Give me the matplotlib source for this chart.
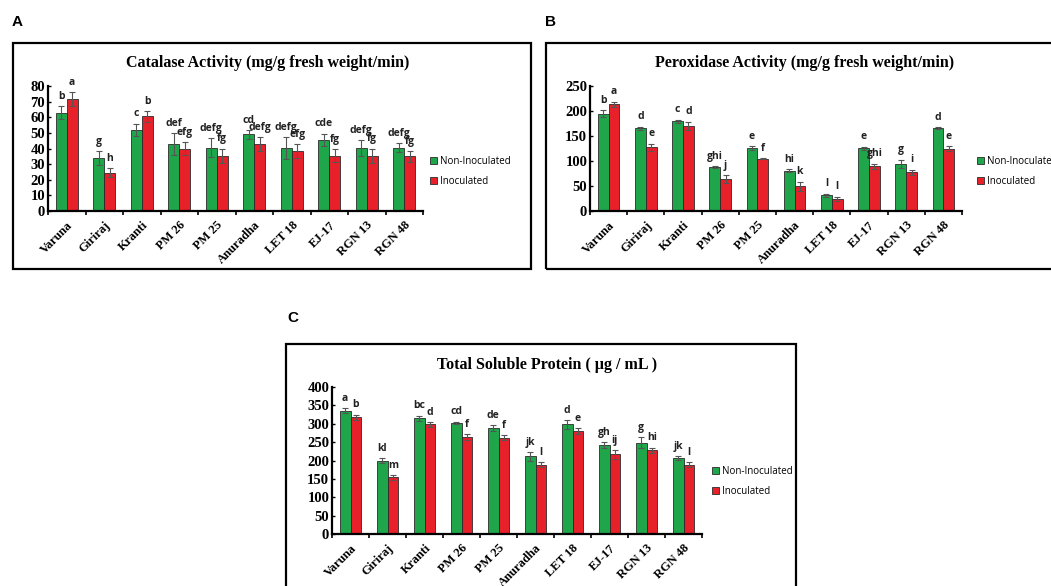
import matplotlib
matplotlib.use("Agg")
import matplotlib.pyplot as plt
from matplotlib.patches import Rectangle, Patch
import numpy as np

cultivars = ["Varuna", "Giriraj", "Kranti", "PM 26", "PM 25", "Anuradha", "LET 18", "EJ-17", "RGN 13", "RGN 48"]

# Catalase activity (mg/g fresh weight/min)
cat_non = [63, 34, 52, 43, 40.5, 49, 40.5, 45.5, 40.5, 40.5]
cat_ino = [71.5, 24.5, 60.5, 40, 35.5, 43, 38.5, 35.5, 35.5, 35]
cat_non_err = [4, 4.5, 4, 7, 6, 3, 7, 4, 5, 3]
cat_ino_err = [4.5, 3, 3.5, 4, 4.5, 4.5, 4.5, 4, 4.5, 3.5]
cat_non_let = ["b", "g", "c", "def", "defg", "cd", "defg", "cde", "defg", "defg"]
cat_ino_let = ["a", "h", "b", "efg", "fg", "defg", "efg", "fg", "fg", "fg"]

# Peroxidase activity (mg/g fresh weight/min)
pox_non = [195, 166, 180, 88, 126, 81, 32, 126, 95, 166]
pox_ino = [214, 128, 171, 64, 105, 50, 25, 90, 78, 125]
pox_non_err = [7, 3, 3, 1.5, 4, 3, 3, 3, 8, 2]
pox_ino_err = [5, 7, 8, 8, 1.5, 9, 4, 5, 5, 5]
pox_non_let = ["b", "d", "c", "ghi", "e", "hi", "l", "e", "g", "d"]
pox_ino_let = ["a", "e", "d", "j", "f", "k", "l", "ghi", "i", "e"]

# Total soluble protein (ug/mL)
tsp_non = [336, 200, 315, 302, 288, 212, 298, 242, 248, 207]
tsp_ino = [318, 154, 298, 264, 262, 188, 281, 217, 228, 188]
tsp_non_err = [7, 7, 7, 4, 8, 12, 12, 7, 15, 5]
tsp_ino_err = [7, 7, 7, 7, 7, 7, 8, 12, 7, 7]
tsp_non_let = ["a", "kl", "bc", "cd", "de", "jk", "d", "gh", "g", "jk"]
tsp_ino_let = ["b", "m", "d", "f", "f", "l", "e", "ij", "hi", "l"]

GREEN = "#1fa64a"
RED = "#e8202a"
EDGE = "#2b2b2b"
SERIF = "Liberation Serif"
SANS = "Open Sans"

W, H = 1051, 586
fig = plt.figure(figsize=(W / 100, H / 100), dpi=100)


def px_axes(l, t, r, b):
    return fig.add_axes([l / W, 1 - b / H, (r - l) / W, (b - t) / H])


def box(l, t, r, b):
    fig.patches.append(Rectangle((l / W, 1 - b / H), (r - l) / W, (b - t) / H,
                                 transform=fig.transFigure, fill=False,
                                 ec="black", lw=1.6, zorder=0))


def panel(ax, non, ino, enon, eino, lnon, lino, ymax, ystep, title, title_xy, leg_xy):
    x = np.arange(len(cultivars)) + 0.5
    w = 0.29
    ekw = dict(ecolor="#555555", elinewidth=0.8, capsize=2.5, capthick=0.8)
    ax.bar(x - w / 2, non, w, color=GREEN, edgecolor=EDGE, lw=0.6, yerr=enon, error_kw=ekw)
    ax.bar(x + w / 2, ino, w, color=RED, edgecolor=EDGE, lw=0.6, yerr=eino, error_kw=ekw)
    for xs, vals, errs, labs in ((x - w / 2, non, enon, lnon), (x + w / 2, ino, eino, lino)):
        for xi, v, e, s in zip(xs, vals, errs, labs):
            ax.annotate(s, (xi, v + e), xytext=(0, 3), textcoords="offset points",
                        ha="center", va="bottom", fontsize=7.5, family=SANS,
                        fontweight="bold", color="#222222")
    ax.set_xlim(0, len(cultivars))
    ax.set_ylim(0, ymax)
    ax.set_yticks(np.arange(0, ymax + 1, ystep))
    ax.set_xticks(np.arange(0, len(cultivars) + 1))
    ax.set_xticklabels([])
    ax.set_xticks(x, minor=True)
    ax.set_xticklabels(cultivars, minor=True, rotation=45, ha="right", rotation_mode="anchor",
                       family=SERIF, fontweight="bold", fontsize=9)
    ax.tick_params(axis="x", which="minor", length=0, pad=6)
    ax.tick_params(axis="x", which="major", direction="out", length=3, width=1.2)
    ax.tick_params(axis="y", direction="in", length=2, width=1.0, pad=2)
    for lab in ax.get_yticklabels():
        lab.set_family(SERIF)
        lab.set_fontweight("bold")
        lab.set_fontsize(10.5)
    for s in ("top", "right"):
        ax.spines[s].set_visible(False)
    for s in ("left", "bottom"):
        ax.spines[s].set_linewidth(1.6)
    fig.text(title_xy[0] / W, 1 - title_xy[1] / H, title, ha="center", va="center",
             family=SERIF, fontweight="bold", fontsize=11.5)
    handles = [Patch(facecolor=GREEN, edgecolor=EDGE, lw=0.6, label="Non-Inoculated"),
               Patch(facecolor=RED, edgecolor=EDGE, lw=0.6, label="Inoculated")]
    fig.legend(handles=handles, loc="upper left", bbox_to_anchor=(leg_xy[0] / W, 1 - leg_xy[1] / H),
               frameon=False, prop=dict(family=SANS, size=7), handlelength=0.7, handleheight=0.7,
               handletextpad=0.3, labelspacing=0.9, borderpad=0, borderaxespad=0)


# panel frames and letters
box(13, 43, 531, 269)
box(546, 43, 1060, 269)
box(286, 344, 796, 600)
fig.text(12 / W, 1 - 22 / H, "A", ha="left", va="center", fontsize=11, fontweight="bold", family="Liberation Sans")
fig.text(545 / W, 1 - 22 / H, "B", ha="left", va="center", fontsize=11, fontweight="bold", family="Liberation Sans")
fig.text(287 / W, 1 - 318 / H, "C", ha="left", va="center", fontsize=11, fontweight="bold", family="Liberation Sans")

axA = px_axes(48, 86, 423, 211)
panel(axA, cat_non, cat_ino, cat_non_err, cat_ino_err, cat_non_let, cat_ino_let,
      80, 10, "Catalase Activity (mg/g fresh weight/min)", (268, 63), (430, 156))

axB = px_axes(590, 86, 962, 211)
panel(axB, pox_non, pox_ino, pox_non_err, pox_ino_err, pox_non_let, pox_ino_let,
      250, 50, "Peroxidase Activity (mg/g fresh weight/min)", (805, 63), (977, 156))

axC = px_axes(332, 387, 702, 534)
panel(axC, tsp_non, tsp_ino, tsp_non_err, tsp_ino_err, tsp_non_let, tsp_ino_let,
      400, 50, "Total Soluble Protein ( µg / mL )", (547, 365), (712, 466))

fig.savefig("out.png", dpi=100)
